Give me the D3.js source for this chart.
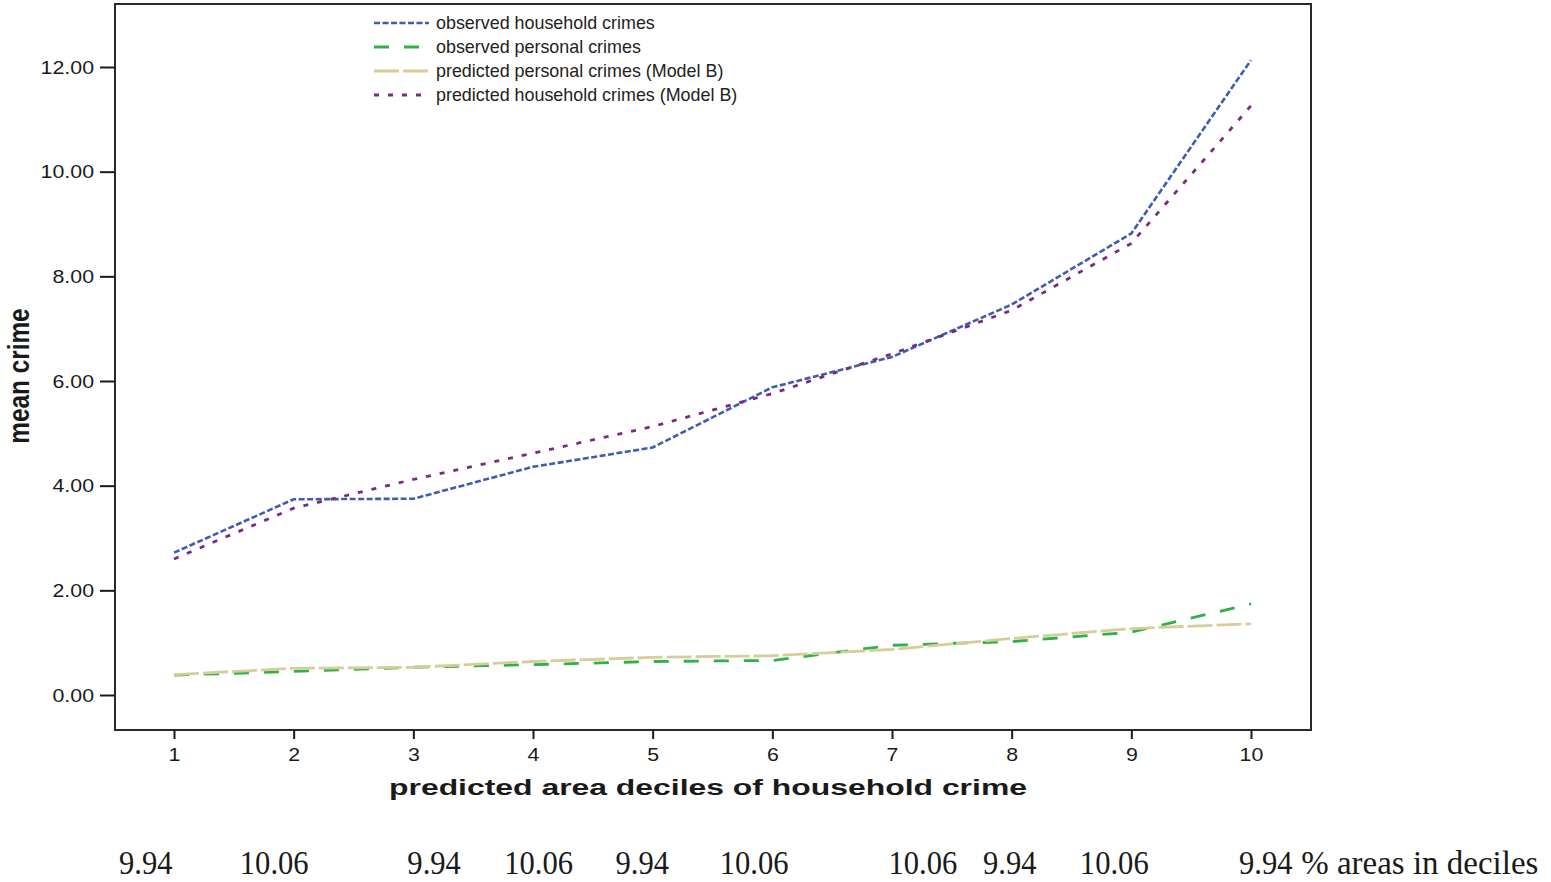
<!DOCTYPE html>
<html>
<head>
<meta charset="utf-8">
<script src="https://cdn.jsdelivr.net/npm/d3@7"></script>
<style>
  html, body { margin: 0; padding: 0; background: #fff; }
  svg { display: block; }
</style>
</head>
<body>
<svg id="chart" width="1551" height="882"></svg>
<script>
// ---- data ----
const deciles = [1, 2, 3, 4, 5, 6, 7, 8, 9, 10];
const observedHousehold = [2.72, 3.74, 3.75, 4.36, 4.73, 5.88, 6.46, 7.46, 8.82, 12.13];
const observedPersonal  = [0.38, 0.45, 0.53, 0.58, 0.64, 0.66, 0.95, 1.02, 1.20, 1.74];
const predictedPersonal = [0.39, 0.51, 0.53, 0.64, 0.72, 0.75, 0.87, 1.08, 1.27, 1.36];
const predictedHousehold = [2.60, 3.57, 4.12, 4.62, 5.13, 5.76, 6.52, 7.35, 8.63, 11.26];
const yTicks = [0, 2, 4, 6, 8, 10, 12];
const seriesNames = [
  "observed household crimes",
  "observed personal crimes",
  "predicted personal crimes (Model B)",
  "predicted household crimes (Model B)"
];
const areaPercents = ["9.94", "10.06", "9.94", "10.06", "9.94", "10.06", "10.06", "9.94", "10.06", "9.94"];
const areaLabelPos = [0.54, 1.55, 2.95, 3.76, 4.69, 5.56, 6.97, 7.76, 8.57, 9.90];
const areaCaption = "% areas in deciles";

// ---- layout ----
const frame = { left: 115, right: 1311, top: 4, bottom: 730 };
const svg = d3.select("#chart");

const x = d3.scaleLinear().domain([1, 10]).range([174, 1251]);
const y = d3.scaleLinear().domain([0, 12]).range([695, 67]);

const styles = [
  { color: "#3f5db0", dash: "6,2.5", width: 2.6 },
  { color: "#2fb14a", dash: "15,15", width: 2.8 },
  { color: "#d6cd9a", dash: "25,4", width: 2.8 },
  { color: "#7a2a82", dash: "5,9", width: 2.8 }
];
const seriesData = [observedHousehold, observedPersonal, predictedPersonal, predictedHousehold];

// frame
svg.append("rect")
  .attr("x", frame.left).attr("y", frame.top)
  .attr("width", frame.right - frame.left).attr("height", frame.bottom - frame.top)
  .attr("fill", "none").attr("stroke", "#2a2a2a").attr("stroke-width", 2);

const sx = 1.22;
const tickFont = 17.5;

// y axis
const yAxis = d3.axisLeft(y).tickValues(yTicks).tickFormat(d3.format(".2f")).tickSize(15).tickPadding(0).tickSizeOuter(0);
const gy = svg.append("g").attr("transform", `translate(${frame.left},0)`).call(yAxis);
gy.select(".domain").remove();
gy.selectAll(".tick line").attr("stroke", "#1a1a1a").attr("stroke-width", 2);
gy.selectAll(".tick text")
  .attr("font-family", "Arial, 'Liberation Sans', sans-serif")
  .attr("font-size", tickFont)
  .attr("fill", "#1a1a1a")
  .attr("x", -21 / sx)
  .attr("dy", "0.35em")
  .attr("transform", `scale(${sx},1)`);

// x axis
const xAxis = d3.axisBottom(x).tickValues(deciles).tickFormat(d3.format("d")).tickSize(9).tickPadding(0).tickSizeOuter(0);
const gx = svg.append("g").attr("transform", `translate(0,${frame.bottom})`).call(xAxis);
gx.select(".domain").remove();
gx.selectAll(".tick line").attr("stroke", "#1a1a1a").attr("stroke-width", 2);
gx.selectAll(".tick text")
  .attr("font-family", "Arial, 'Liberation Sans', sans-serif")
  .attr("font-size", tickFont)
  .attr("fill", "#1a1a1a")
  .attr("y", 25)
  .attr("dy", "0.35em")
  .attr("transform", `scale(${sx},1)`);

// lines
const line = d3.line().x((d, i) => x(deciles[i])).y(d => y(d));
const drawOrder = [1, 2, 0, 3];
drawOrder.forEach(k => {
  svg.append("path")
    .datum(seriesData[k])
    .attr("d", line)
    .attr("fill", "none")
    .attr("stroke", styles[k].color)
    .attr("stroke-width", styles[k].width)
    .attr("stroke-dasharray", styles[k].dash);
});

// legend
const legend = svg.append("g");
seriesNames.forEach((name, i) => {
  const ly = 23 + i * 24;
  legend.append("line")
    .attr("x1", 374).attr("x2", 429).attr("y1", ly).attr("y2", ly)
    .attr("stroke", styles[i].color).attr("stroke-width", styles[i].width)
    .attr("stroke-dasharray", styles[i].dash);
  legend.append("text")
    .attr("x", 436).attr("y", ly).attr("dy", "0.35em")
    .attr("font-family", "Arial, 'Liberation Sans', sans-serif")
    .attr("font-size", 17.9)
    .attr("fill", "#222")
    .text(name);
});

// axis titles
const xtScale = 1.45;
svg.append("text")
  .attr("x", 708 / xtScale).attr("y", 795)
  .attr("text-anchor", "middle")
  .attr("transform", `scale(${xtScale},1)`)
  .attr("font-family", "Arial, 'Liberation Sans', sans-serif")
  .attr("font-weight", "bold")
  .attr("font-size", 22)
  .attr("fill", "#1a1a1a")
  .text("predicted area deciles of household crime");

const ytScale = 0.84;
svg.append("text")
  .attr("transform", `translate(29,376) rotate(-90) scale(${ytScale},1)`)
  .attr("text-anchor", "middle")
  .attr("font-family", "Arial, 'Liberation Sans', sans-serif")
  .attr("font-weight", "bold")
  .attr("font-size", 29)
  .attr("fill", "#1a1a1a")
  .text("mean crime");

// bottom percent labels
const bsx = 0.9;
const bottom = svg.append("g");
areaPercents.forEach((t, i) => {
  bottom.append("text")
    .attr("x", x(areaLabelPos[i]) / bsx).attr("y", 874)
    .attr("transform", `scale(${bsx},1)`)
    .attr("font-family", "'Liberation Serif', 'Times New Roman', serif")
    .attr("font-size", 34)
    .attr("fill", "#1a1a1a")
    .text(t);
});
const csx = 0.97;
bottom.append("text")
  .attr("x", x(10.42) / csx).attr("y", 874)
  .attr("transform", `scale(${csx},1)`)
  .attr("font-family", "'Liberation Serif', 'Times New Roman', serif")
  .attr("font-size", 34)
  .attr("fill", "#1a1a1a")
  .text(areaCaption);
</script>
</body>
</html>
